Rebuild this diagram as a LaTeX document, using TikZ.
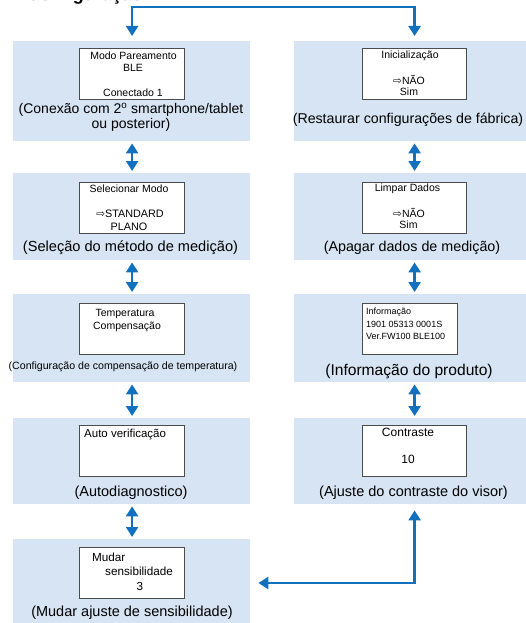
\documentclass[tikz,border=0pt]{standalone}
\usepackage{fontspec}
\setmainfont{Liberation Sans}
\newfontfamily\symfont{DejaVu Sans}
\usetikzlibrary{arrows.meta, positioning}
\definecolor{panelblue}{RGB}{214,228,243}
\definecolor{arrowblue}{RGB}{18,113,190}
\newcommand{\pt}[1]{\fontsize{#1}{#1}\selectfont}
\newcommand{\ra}{{\symfont\pt{10.5}⇨}}

\tikzset{
panel/.style={fill=panelblue, anchor=north west, inner sep=0, minimum height=#1},
lcd/.style={draw=black!70, line width=1.2pt, fill=white, anchor=north west, inner sep=0, minimum height=51pt, minimum width=#1},
txt/.style={inner sep=0, font=\pt{#1}},
cap/.style={inner sep=0, font=\pt{#1}},
link/.style={draw=arrowblue, line width=2.4pt, -{Triangle[width=12pt,length=10pt]}},
updown/.style={draw=arrowblue, line width=2.4pt, {Triangle[width=12pt,length=10pt]}-{Triangle[width=12pt,length=10pt]}, shorten <=2pt, shorten >=2pt}
}

\begin{document}
\begin{tikzpicture}[x=1pt, y=-1pt]
\useasboundingbox (0,0) rectangle (526,623);

\node[anchor=base east, inner sep=0, font=\bfseries\pt{18}] (title) at (143,0.5) {Configuração};

\node[panel=100pt, minimum width=237pt] (pl1) at (13,41) {};
\node[panel=87pt, minimum width=237pt] (pl2) at (13,173) {};
\node[panel=88pt, minimum width=237pt] (pl3) at (13,294) {};
\node[panel=86pt, minimum width=237pt] (pl4) at (13,418) {};
\node[panel=88pt, minimum width=237pt] (pl5) at (13,539) {};
\node[panel=100pt, minimum width=232pt] (pr1) at (294,41) {};
\node[panel=87pt, minimum width=232pt] (pr2) at (294,173) {};
\node[panel=88pt, minimum width=232pt] (pr3) at (294,294) {};
\node[panel=86pt, minimum width=232pt] (pr4) at (294,418) {};

\node[lcd=105pt] (sl1) at (79,48) {};
\node[lcd=105pt] (sl2) at (79,182) {};
\node[lcd=105pt] (sl3) at (79,303) {};
\node[lcd=105pt] (sl4) at (79,425) {};
\node[lcd=105pt] (sl5) at (79,547) {};
\node[lcd=104pt] (sr1) at (362,48) {};
\node[lcd=104pt] (sr2) at (362,182) {};
\node[lcd=95pt] (sr3) at (362,303) {};
\node[lcd=104pt] (sr4) at (362,425) {};

\node[txt=10.5] (l1a) at (133.5,56) {Modo Pareamento};
\node[txt=10.5] (l1b) at (133,68) {BLE};
\node[txt=10.5] (l1c) at (133,93) {Conectado 1};
\node[cap=14] (c1a) at (131,110) {(Conexão com 2\textsuperscript{o} smartphone/tablet};
\node[cap=14] (c1b) at (131,125) {ou posterior)};

\node[txt=10.5] (r1a) at (410,56) {Inicialização};
\node[txt=10.5] (r1b) at (409,80) {\ra NÃO};
\node[txt=10.5] (r1c) at (409,92) {Sim};
\node[cap=14.2] (c2) at (408,120) {(Restaurar configurações de fábrica)};

\node[txt=10.5] (l2a) at (129,189) {Selecionar Modo};
\node[txt=10.8] (l2b) at (130,214) {\ra STANDARD};
\node[txt=10.8] (l2c) at (129,227) {PLANO};
\node[cap=14.6] (c3) at (130.5,248) {(Seleção do método de medição)};

\node[txt=10.5] (r2a) at (407.5,189) {Limpar Dados};
\node[txt=10.5] (r2b) at (409,213) {\ra NÃO};
\node[txt=10.5] (r2c) at (408.5,225) {Sim};
\node[cap=14.3] (c4) at (412,248) {(Apagar dados de medição)};

\node[txt=10.5] (l3a) at (125,314) {Temperatura};
\node[txt=10.5] (l3b) at (127,327) {Compensação};
\node[cap=10.6] (c5) at (123,367) {(Configuração de compensação de temperatura)};

\node[txt=9, anchor=west] (r3a) at (366,312) {Informação};
\node[txt=9, anchor=west] (r3b) at (366,324) {1901 05313 0001S};
\node[txt=9, anchor=west] (r3c) at (366,336) {Ver.FW100 BLE100};
\node[cap=15.6] (c6) at (409,371) {(Informação do produto)};

\node[txt=11.5, anchor=west] (l4a) at (84,435) {Auto verificação};
\node[cap=14.5] (c7) at (131,493) {(Autodiagnostico)};

\node[txt=12] (r4a) at (408,432) {Contraste};
\node[txt=12] (r4b) at (408,459) {10};
\node[cap=14.5] (c8) at (413.5,493) {(Ajuste do contraste do visor)};

\node[txt=11.7, anchor=west] (l5a) at (92,557) {Mudar};
\node[txt=11.7, anchor=west] (l5b) at (105,571) {sensibilidade};
\node[txt=11.7] (l5c) at (140,586) {3};
\node[cap=14.5] (c9) at (132,613) {(Mudar ajuste de sensibilidade)};

\foreach \a/\b/\s in {pl1/pl2/sl1, pl2/pl3/sl2, pl3/pl4/sl3, pl4/pl5/sl4, pr1/pr2/sr1, pr2/pr3/sr2, pr3/pr4/sr4}{ \draw[updown] (\a.south -| \s) -- (\b.north -| \s); }

\coordinate (top) at (273,7);
\coordinate (bot) at (413,583);
\draw[link, {Triangle[width=12pt,length=10pt]}-{Triangle[width=12pt,length=10pt]}, shorten <=5pt, shorten >=5pt] (pl1.north -| sl1) |- (top) -| (pr1.north -| sr4);
\draw[link, {Triangle[width=12pt,length=10pt]}-{Triangle[width=12pt,length=10pt]}, shorten <=6pt, shorten >=8pt] (pr4.south -| sr4) |- (bot) -- (pl5.east |- bot);

\end{tikzpicture}
\end{document}
